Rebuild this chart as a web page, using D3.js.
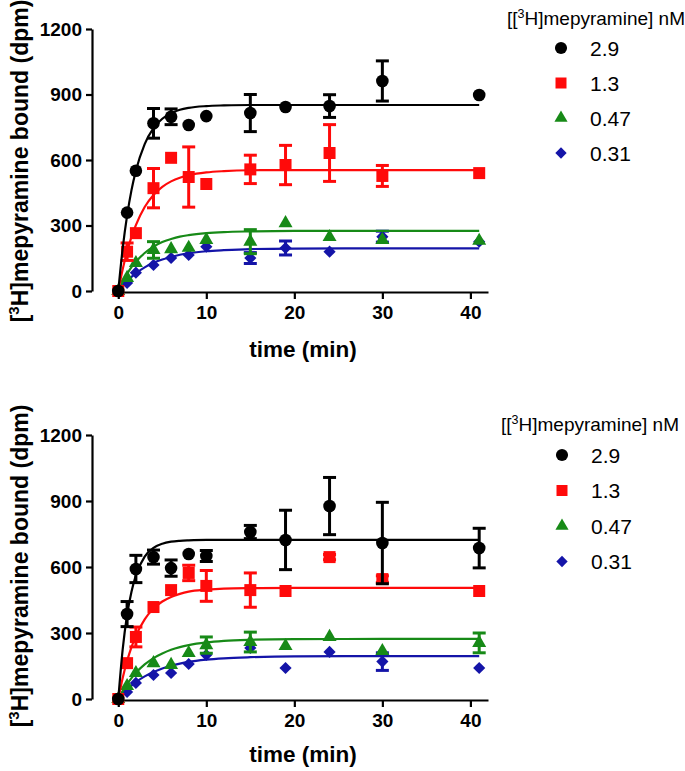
<!DOCTYPE html>
<html>
<head>
<meta charset="utf-8">
<script src="https://cdn.jsdelivr.net/npm/d3@7"></script>
<style>
  html, body { margin: 0; padding: 0; background: #fff; }
  svg { display: block; }
  text { font-family: "Liberation Sans", Arial, sans-serif; }
</style>
</head>
<body>
<svg id="chart" width="685" height="771"></svg>
<script>
// ---------------- DATA ----------------
const times = [0, 1, 2, 4, 6, 8, 10, 15, 19, 24, 30, 41];
const concLabels = ["2.9", "1.3", "0.47", "0.31"];
const xTicks = [0, 10, 20, 30, 40];
const yTicks = [0, 300, 600, 900, 1200];
const legendTitle = "nM";

// Panel A (top)
const topBlack      = [0, 359, 551, 768, 798, 760, 801, 815, 843, 847, 962, 898];
const topBlackErr   = [0, 0, 0, 68, 36, 0, 0, 85, 0, 52, 92, 0];
const topRed        = [0, 180, 265, 471, 610, 522, 490, 557, 577, 632, 527, 540];
const topRedErr     = [0, 40, 0, 90, 0, 138, 0, 65, 90, 130, 48, 0];
const topGreen      = [0, 60, 128, 188, 192, 198, 234, 226, 311, 247, 234, 230];
const topGreenErr   = [0, 0, 0, 38, 0, 0, 0, 55, 0, 0, 0, 0];
const topBlue       = [0, 37, 84, 119, 151, 165, 203, 151, 197, 180, 249, 226];
const topBlueErr    = [0, 0, 0, 0, 0, 0, 0, 25, 32, 0, 25, 0];

// Panel B (bottom)
const botBlack      = [0, 386, 591, 645, 595, 659, 650, 759, 723, 877, 709, 686];
const botBlackErr   = [0, 57, 62, 32, 37, 0, 25, 30, 135, 130, 185, 90];
const botRed        = [0, 163, 282, 418, 495, 573, 514, 495, 491, 645, 545, 491];
const botRedErr     = [0, 0, 45, 0, 0, 35, 70, 78, 0, 12, 15, 0];
const botGreen      = [0, 59, 118, 163, 155, 209, 245, 259, 241, 282, 218, 255];
const botGreenErr   = [0, 0, 0, 0, 0, 0, 37, 45, 0, 0, 0, 45];
const botBlue       = [0, 32, 73, 109, 118, 159, 200, 232, 141, 214, 170, 141];
const botBlueErr    = [0, 0, 0, 0, 0, 0, 0, 0, 0, 0, 40, 0];

// Fitted association curves
const fitTimes      = [0, 0.5, 1, 1.5, 2, 3, 4, 5, 6, 7, 8, 10, 12, 15, 20, 30, 41];
const topBlackFit   = [0, 195, 345, 462, 551, 673, 746, 789, 814, 830, 839, 847, 850, 852, 852, 852, 852];
const topRedFit     = [0, 99, 181, 248, 302, 385, 440, 477, 502, 519, 530, 543, 549, 553, 554, 554, 554];
const topGreenFit   = [0, 42, 78, 109, 134, 174, 203, 224, 238, 249, 256, 265, 270, 273, 275, 275, 275];
const topBlueFit    = [0, 25, 46, 65, 81, 108, 129, 144, 156, 166, 173, 182, 187, 192, 194, 195, 195];
const botBlackFit   = [0, 226, 382, 488, 562, 647, 687, 706, 715, 719, 721, 723, 723, 723, 723, 723, 723];
const botRedFit     = [0, 96, 173, 236, 287, 362, 411, 443, 464, 478, 488, 497, 502, 504, 505, 505, 505];
const botGreenFit   = [0, 36, 68, 95, 119, 157, 186, 207, 224, 236, 245, 257, 264, 269, 272, 273, 273];
const botBlueFit    = [0, 23, 43, 61, 77, 103, 123, 139, 151, 161, 169, 179, 185, 190, 194, 195, 195];

// ---------------- STYLE ----------------
const colors = ["#000000", "#ff0a0a", "#178a17", "#1414a8"];
const shapes = ["circle", "square", "triangle", "diamond"];

const svg = d3.select("#chart");

function symbolPath(shape, legend) {
  if (shape === "circle") return d3.symbol(d3.symbolCircle, legend ? 115 : 125)();
  if (shape === "square") return d3.symbol(d3.symbolSquare, legend ? 121 : 144)();
  if (shape === "triangle") return d3.symbol(d3.symbolTriangle, legend ? 75 : 85)();
  return d3.symbol(d3.symbolSquare, legend ? 64 : 74)();
}
function symbolTransform(shape, x, y) {
  return shape === "diamond" ? `translate(${x},${y}) rotate(45)` : `translate(${x},${y})`;
}

function drawPanel(p) {
  const g = svg.append("g");
  const x = d3.scaleLinear().domain([-0.6, 42]).range([113, 488]);
  const y = d3.scaleLinear().domain([0, 1200]).range([p.yZero, p.yTop]);

  // axes
  const yAxis = g.append("g").attr("transform", `translate(92,0)`)
    .call(d3.axisLeft(y).tickValues(yTicks).tickFormat(d3.format("d"))
      .tickSize(6).tickSizeOuter(0).tickPadding(4));
  const xAxis = g.append("g").attr("transform", `translate(0,${p.yZero + 1})`)
    .call(d3.axisBottom(x).tickValues(xTicks).tickFormat(d3.format("d"))
      .tickSize(7).tickSizeOuter(0).tickPadding(7));
  [yAxis, xAxis].forEach(a => {
    a.selectAll("path, line").attr("stroke", "#000").attr("stroke-width", 2.2);
    a.selectAll("text").attr("font-size", 19).attr("font-weight", "bold").attr("fill", "#000");
  });

  // axis titles
  g.append("text").attr("x", 303).attr("y", p.xLabelY).attr("text-anchor", "middle")
    .attr("font-size", 22.5).attr("font-weight", "bold").text("time (min)");
  const yl = g.append("text").attr("transform", `translate(28,${p.yLabelY}) rotate(-90)`)
    .attr("text-anchor", "middle").attr("font-size", 23).attr("font-weight", "bold");
  yl.append("tspan").text("[");
  yl.append("tspan").attr("font-size", 15).attr("dy", -9).text("3");
  yl.append("tspan").attr("dy", 9).text("H]mepyramine bound (dpm)");

  // series, drawn from lowest to top-most (black on top)
  for (let s = 3; s >= 0; s--) {
    const vals = p.series[s], errs = p.errs[s], fit = p.fits[s];
    const col = colors[s];
    const line = d3.line().x((d, i) => x(fitTimes[i])).y(d => y(d)).curve(d3.curveMonotoneX);
    g.append("path").datum(fit).attr("d", line).attr("fill", "none")
      .attr("stroke", col).attr("stroke-width", 2.2);
    const eb = g.append("g").attr("stroke", col).attr("stroke-width", 3).attr("fill", "none");
    vals.forEach((v, i) => {
      const e = errs[i];
      if (!e) return;
      const cx = x(times[i]);
      eb.append("line").attr("x1", cx).attr("x2", cx).attr("y1", y(v - e)).attr("y2", y(v + e));
      eb.append("line").attr("x1", cx - 6.5).attr("x2", cx + 6.5).attr("y1", y(v + e)).attr("y2", y(v + e));
      eb.append("line").attr("x1", cx - 6.5).attr("x2", cx + 6.5).attr("y1", y(v - e)).attr("y2", y(v - e));
    });
    g.append("g").selectAll("path").data(vals).join("path")
      .attr("d", symbolPath(shapes[s], false))
      .attr("transform", (d, i) => symbolTransform(shapes[s], x(times[i]), y(d)))
      .attr("fill", col);
  }

  // legend
  const lg = g.append("g");
  const t = lg.append("text").attr("x", p.legX).attr("y", p.legTitleY).attr("font-size", 19);
  t.append("tspan").text("[[");
  t.append("tspan").attr("font-size", 12.5).attr("dy", -7.5).text("3");
  t.append("tspan").attr("dy", 7.5).text("H]mepyramine] " + legendTitle);
  concLabels.forEach((lab, i) => {
    const cy = p.legY0 + i * p.legStep;
    lg.append("path").attr("d", symbolPath(shapes[i], true))
      .attr("transform", symbolTransform(shapes[i], p.legSymX, cy))
      .attr("fill", colors[i]);
    lg.append("text").attr("x", p.legSymX + 29).attr("y", cy + 7.5).attr("font-size", 21).text(lab);
  });
}

drawPanel({
  yTop: 29, yZero: 291, xLabelY: 357, yLabelY: 161,
  series: [topBlack, topRed, topGreen, topBlue],
  errs: [topBlackErr, topRedErr, topGreenErr, topBlueErr],
  fits: [topBlackFit, topRedFit, topGreenFit, topBlueFit],
  legX: 507, legTitleY: 25, legSymX: 561, legY0: 48, legStep: 35
});
drawPanel({
  yTop: 435, yZero: 699, xLabelY: 762, yLabelY: 566,
  series: [botBlack, botRed, botGreen, botBlue],
  errs: [botBlackErr, botRedErr, botGreenErr, botBlueErr],
  fits: [botBlackFit, botRedFit, botGreenFit, botBlueFit],
  legX: 501, legTitleY: 431, legSymX: 562, legY0: 455, legStep: 35.5
});
</script>
</body>
</html>
